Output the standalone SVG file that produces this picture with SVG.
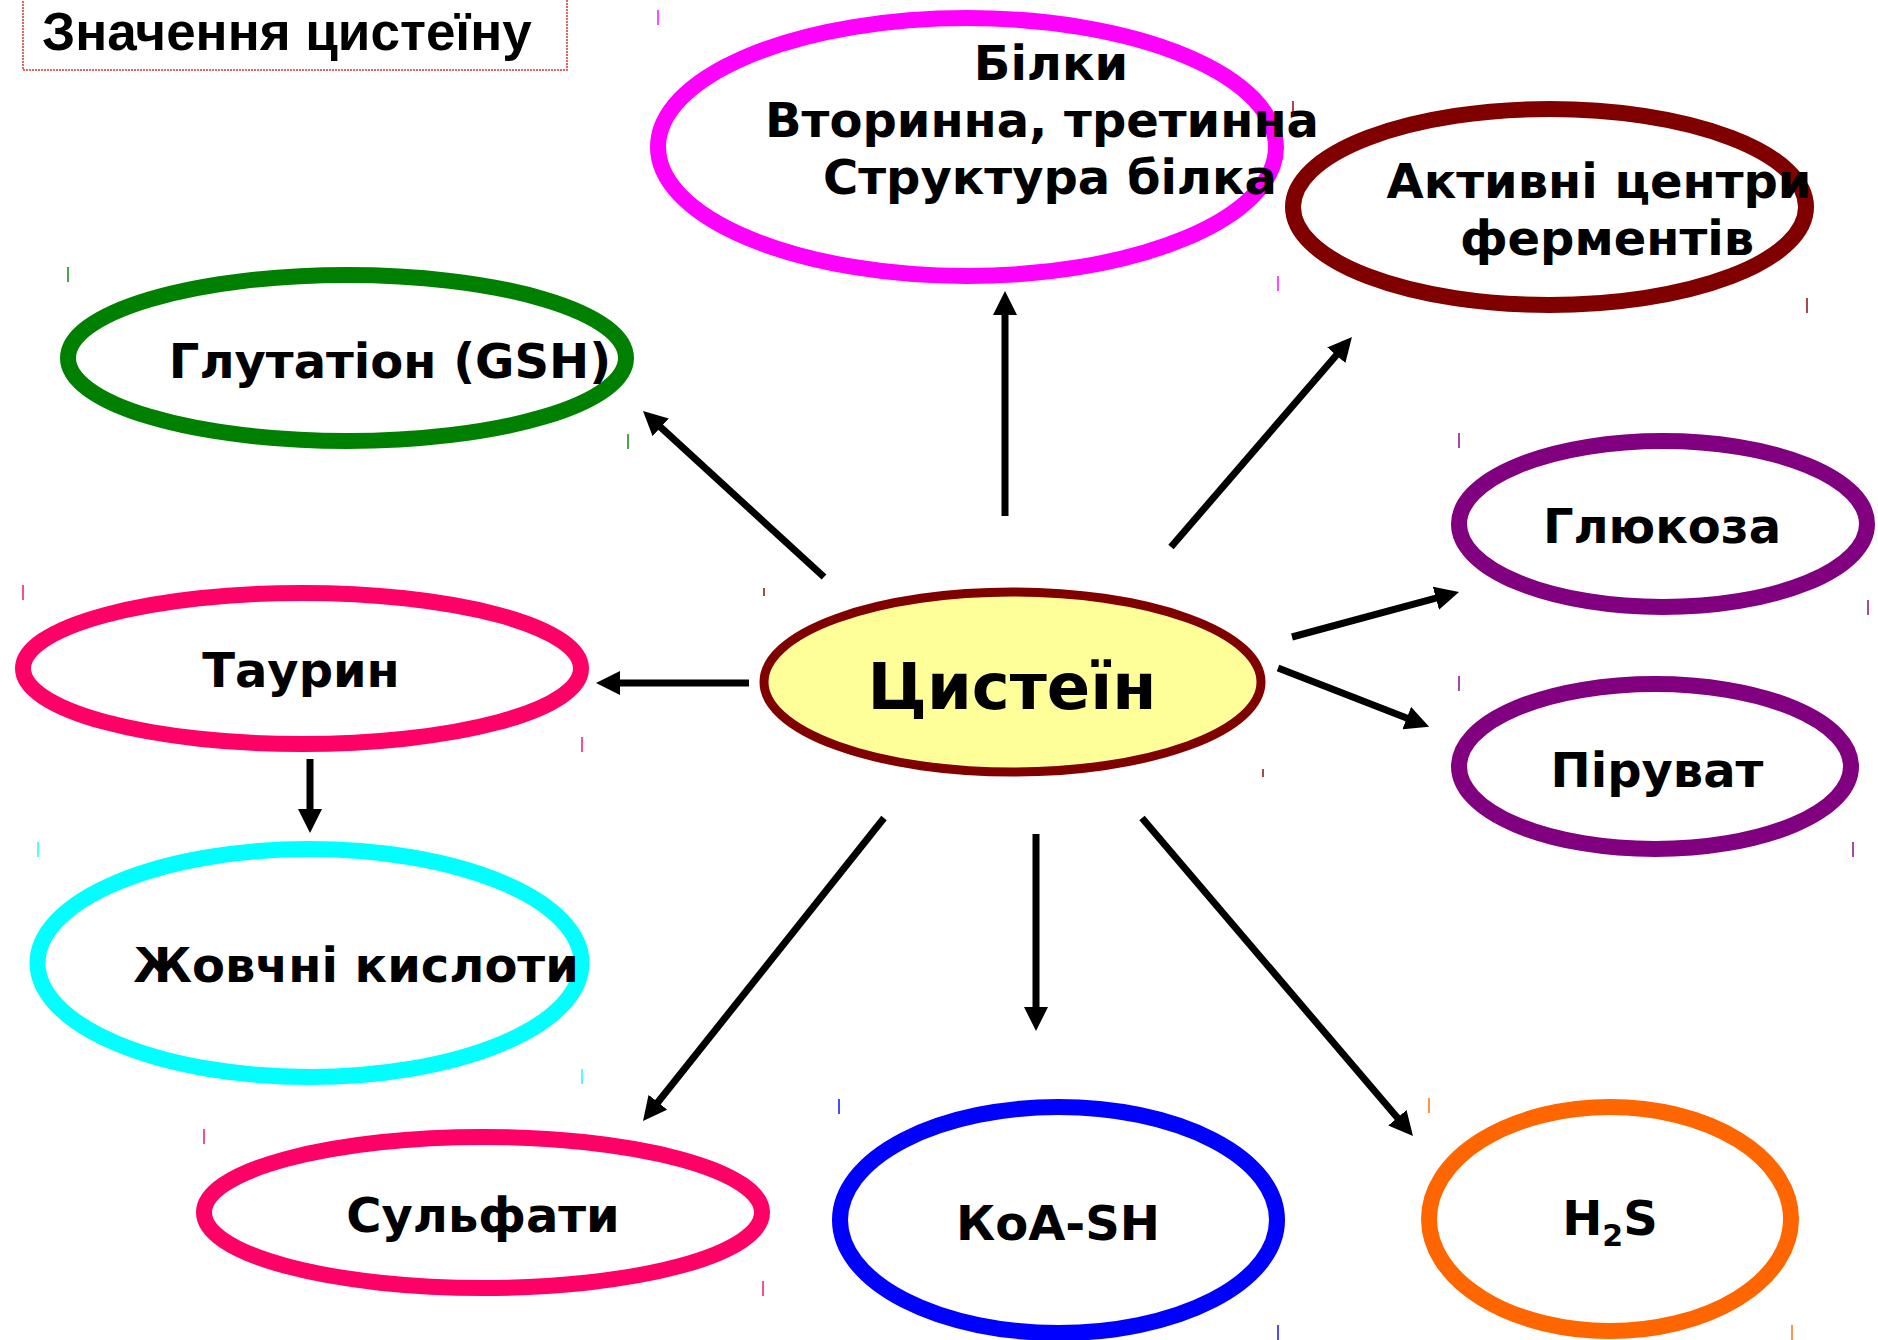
<svg xmlns="http://www.w3.org/2000/svg" width="1878" height="1340" viewBox="0 0 1878 1340">
<style>
.n{fill:none;stroke-width:16}
.t{font-family:"DejaVu Sans","Verdana",sans-serif;font-weight:bold;font-size:48px;fill:#000;text-anchor:middle}
.c{stroke:#000;stroke-width:7;fill:none;marker-end:url(#ah)}
.h{stroke-width:2;opacity:0.7}
</style>
<defs>
<marker id="ah" markerUnits="userSpaceOnUse" markerWidth="24" markerHeight="24" viewBox="0 0 24 24" refX="2" refY="12" orient="auto">
<path d="M0,0 L24,12 L0,24 z" fill="#000"/>
</marker>
</defs>
<rect width="1878" height="1340" fill="#fff"/>

<g id="title">
<rect x="23" y="-5" width="544" height="75" fill="none" stroke="#e03030" stroke-width="1.5" stroke-dasharray="2 1"/>
<text x="42" y="50" style="font-family:'Liberation Sans',Arial,sans-serif;font-weight:bold;font-size:53px">Значення цистеїну</text>
</g>

<g id="connectors">
<line class="c" x1="1005" y1="516" x2="1005" y2="313"/>
<line class="c" x1="1171" y1="547" x2="1337.6" y2="353.7"/>
<line class="c" x1="824" y1="577" x2="659.2" y2="425.9"/>
<line class="c" x1="749" y1="683" x2="618" y2="683"/>
<line class="c" x1="1292" y1="637" x2="1437.8" y2="597.7"/>
<line class="c" x1="1278" y1="668" x2="1408.6" y2="718.8"/>
<line class="c" x1="884" y1="818" x2="656.7" y2="1103.8"/>
<line class="c" x1="1036" y1="834" x2="1036" y2="1009"/>
<line class="c" x1="1142" y1="818" x2="1398.7" y2="1119.3"/>
<line class="c" x1="310" y1="759" x2="310" y2="811"/>
</g>

<g id="proteins">
<ellipse class="n" cx="967" cy="147" rx="309" ry="129" stroke="#FF00FF"/>
<text class="t" x="1051" y="80">Білки</text>
<text class="t" x="1042" y="137">Вторинна, третинна</text>
<text class="t" x="1050" y="194">Структура білка</text>
<line class="h" stroke="#FF00FF" x1="658" y1="10" x2="658" y2="25"/>
<line class="h" stroke="#FF00FF" x1="1278" y1="276" x2="1278" y2="291"/>
</g>

<g id="active-centers">
<ellipse class="n" cx="1549.5" cy="207" rx="256.5" ry="98" stroke="#800000"/>
<text class="t" x="1599" y="198">Активні центри</text>
<text class="t" x="1607" y="255">ферментів</text>
<line class="h" stroke="#800000" x1="1293" y1="101" x2="1293" y2="116"/>
<line class="h" stroke="#800000" x1="1807" y1="298" x2="1807" y2="313"/>
</g>

<g id="glutathione">
<ellipse class="n" cx="347" cy="358" rx="279" ry="83" stroke="#008000"/>
<text class="t" x="390" y="378">Глутатіон (GSH)</text>
<line class="h" stroke="#008000" x1="68" y1="267" x2="68" y2="282"/>
<line class="h" stroke="#008000" x1="628" y1="434" x2="628" y2="449"/>
</g>

<g id="glucose">
<ellipse class="n" cx="1663" cy="524" rx="204" ry="83" stroke="#800080"/>
<text class="t" x="1662" y="543">Глюкоза</text>
<line class="h" stroke="#800080" x1="1459" y1="433" x2="1459" y2="448"/>
<line class="h" stroke="#800080" x1="1868" y1="600" x2="1868" y2="615"/>
</g>

<g id="pyruvate">
<ellipse class="n" cx="1655" cy="766.5" rx="196" ry="82.5" stroke="#800080"/>
<text class="t" x="1657" y="787">Піруват</text>
<line class="h" stroke="#800080" x1="1459" y1="676" x2="1459" y2="691"/>
<line class="h" stroke="#800080" x1="1853" y1="842" x2="1853" y2="857"/>
</g>

<g id="cysteine">
<ellipse cx="1012.5" cy="682" rx="248.5" ry="90" fill="#FFFF99" stroke="#800000" stroke-width="9"/>
<text class="t" x="1012" y="709" style="font-size:64px">Цистеїн</text>
<line class="h" stroke="#800000" x1="764" y1="588" x2="764" y2="596"/>
<line class="h" stroke="#800000" x1="1263" y1="769" x2="1263" y2="777"/>
</g>

<g id="taurine">
<ellipse class="n" cx="302" cy="668.5" rx="279" ry="75.5" stroke="#FF0066"/>
<text class="t" x="301" y="687">Таурин</text>
<line class="h" stroke="#FF0066" x1="23" y1="585" x2="23" y2="600"/>
<line class="h" stroke="#FF0066" x1="582" y1="737" x2="582" y2="752"/>
</g>

<g id="bile-acids">
<ellipse class="n" cx="309.5" cy="963" rx="272" ry="114" stroke="#00FFFF"/>
<text class="t" x="356" y="982">Жовчні кислоти</text>
<line class="h" stroke="#00FFFF" x1="38" y1="842" x2="38" y2="857"/>
<line class="h" stroke="#00FFFF" x1="582" y1="1069" x2="582" y2="1084"/>
</g>

<g id="sulfates">
<ellipse class="n" cx="483" cy="1212.5" rx="279" ry="75.5" stroke="#FF0066"/>
<text class="t" x="483" y="1232">Сульфати</text>
<line class="h" stroke="#FF0066" x1="204" y1="1129" x2="204" y2="1144"/>
<line class="h" stroke="#FF0066" x1="763" y1="1281" x2="763" y2="1296"/>
</g>

<g id="coa-sh">
<ellipse class="n" cx="1058.5" cy="1220" rx="218.5" ry="113" stroke="#0000FF"/>
<text class="t" x="1058" y="1240">КоА-SH</text>
<line class="h" stroke="#0000FF" x1="839" y1="1099" x2="839" y2="1114"/>
<line class="h" stroke="#0000FF" x1="1278" y1="1325" x2="1278" y2="1340"/>
</g>

<g id="h2s">
<ellipse class="n" cx="1610" cy="1219" rx="181" ry="112" stroke="#FF6600"/>
<text class="t" x="1610" y="1235">H<tspan style="font-size:30px" dy="11">2</tspan><tspan dy="-11">S</tspan></text>
<line class="h" stroke="#FF6600" x1="1429" y1="1098" x2="1429" y2="1113"/>
<line class="h" stroke="#FF6600" x1="1792" y1="1325" x2="1792" y2="1340"/>
</g>
</svg>
